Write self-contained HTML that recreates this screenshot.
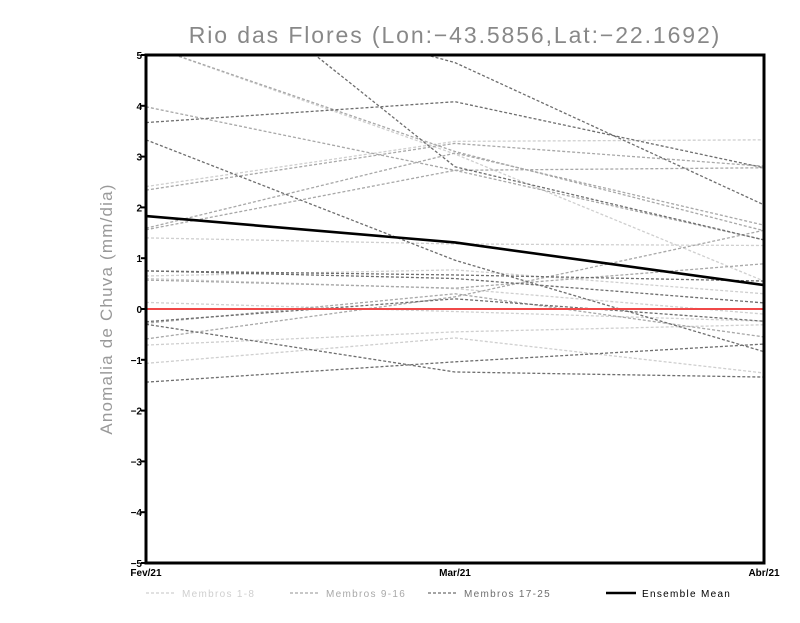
<!DOCTYPE html>
<html><head><meta charset="utf-8"><style>
body{margin:0;background:#fff;width:800px;height:618px;overflow:hidden}
svg{font-family:"Liberation Sans",sans-serif}
</style></head><body>
<svg id="chart" width="800" height="618">
<defs><clipPath id="clip"><rect x="146" y="55" width="618" height="508"/></clipPath></defs>
<text x="455" y="43" text-anchor="middle" font-size="23" fill="#888" letter-spacing="1.9">Rio das Flores (Lon:−43.5856,Lat:−22.1692)</text>
<text transform="translate(112,309) rotate(-90)" text-anchor="middle" font-size="17" fill="#999" letter-spacing="1.2">Anomalia de Chuva (mm/dia)</text>
<g id="series" clip-path="url(#clip)"></g>
<g id="axes"></g>
<g id="legend"></g>
</svg>
<script>
const categories=["Fev/21","Mar/21","Abr/21"];
const yTicks=[-5,-4,-3,-2,-1,0,1,2,3,4,5];
const light=[[2.41,3.30,3.33],[5.2,3.05,0.55],[1.40,1.28,1.25],[0.65,0.77,0.30],[0.13,-0.05,-0.24],[-0.71,-0.45,-0.31],[-1.07,-0.57,-1.26],[0.60,0.40,-0.10]];
const mid=[[3.98,2.73,1.36],[2.34,3.26,2.81],[1.59,3.07,1.65],[1.56,2.73,2.78],[5.2,3.10,1.54],[0.57,0.41,0.89],[-0.59,0.24,1.55],[-0.28,0.30,-0.55]];
const dark=[[3.67,4.08,2.78],[6.5,4.85,2.05],[7.66,2.80,1.36],[3.33,0.96,-0.84],[0.75,0.67,0.55],[-0.25,0.20,-0.24],[-0.30,-1.24,-1.34],[-1.44,-1.04,-0.69],[0.75,0.60,0.12]];
const mean=[1.83,1.31,0.47];
const X0=146,X1=764,Y0=563,Y1=55;
const xs=i=>X0+i*(X1-X0)/(categories.length-1);
const ys=v=>Y0-(v+5)*(Y0-Y1)/10;
const NS="http://www.w3.org/2000/svg";
function mk(t,a,p){const e=document.createElementNS(NS,t);for(const k in a)e.setAttribute(k,a[k]);p.appendChild(e);return e;}
const sg=document.getElementById('series'),ag=document.getElementById('axes'),lg=document.getElementById('legend');
function pts(v){return v.map((d,i)=>xs(i)+","+ys(d)).join(" ");}
[[light,"#cfcfcf","member-light"],[mid,"#a8a8a8","member-mid"],[dark,"#6e6e6e","member-dark"]].forEach(([arr,c,n])=>{
arr.forEach((s,k)=>{const e=mk('polyline',{points:pts(s),fill:"none",stroke:c,"stroke-width":1.3,"stroke-dasharray":"3,2"},sg);

});});
const z=mk('line',{x1:X0,x2:X1,y1:ys(0),y2:ys(0),stroke:"#f04848","stroke-width":2},sg);


const m=mk('polyline',{points:pts(mean),fill:"none",stroke:"#000","stroke-width":2.6},sg);


const fr=mk('rect',{x:X0,y:Y1,width:X1-X0,height:Y0-Y1,fill:"none",stroke:"#000","stroke-width":3},ag);


yTicks.forEach(t=>{mk('line',{x1:X0-5,x2:X0,y1:ys(t),y2:ys(t),stroke:"#000","stroke-width":2},ag);
const tx=mk('text',{x:X0-4,y:ys(t)+4,"text-anchor":"end","font-size":10,"font-weight":"bold"},ag);tx.textContent=t<0?"−"+(-t):t;

});
categories.forEach((c,i)=>{const tx=mk('text',{x:xs(i),y:576,"text-anchor":"middle","font-size":10,"font-weight":"bold"},ag);tx.textContent=c;

});
[["Membros 1-8","#cfcfcf",146,"3,2",1.3],["Membros 9-16","#a8a8a8",290,"3,2",1.3],["Membros 17-25","#6e6e6e",428,"3,2",1.3],["Ensemble Mean","#000",606,"",2.5]].forEach(([t,c,x,d,w])=>{
const g=mk('g',{},lg);


mk('line',{x1:x,x2:x+30,y1:593,y2:593,stroke:c,"stroke-width":w,"stroke-dasharray":d},g);
const tx=mk('text',{x:x+36,y:597,"font-size":10,fill:c,"letter-spacing":"1.3"},g);tx.textContent=t;});
</script>
</body></html>
